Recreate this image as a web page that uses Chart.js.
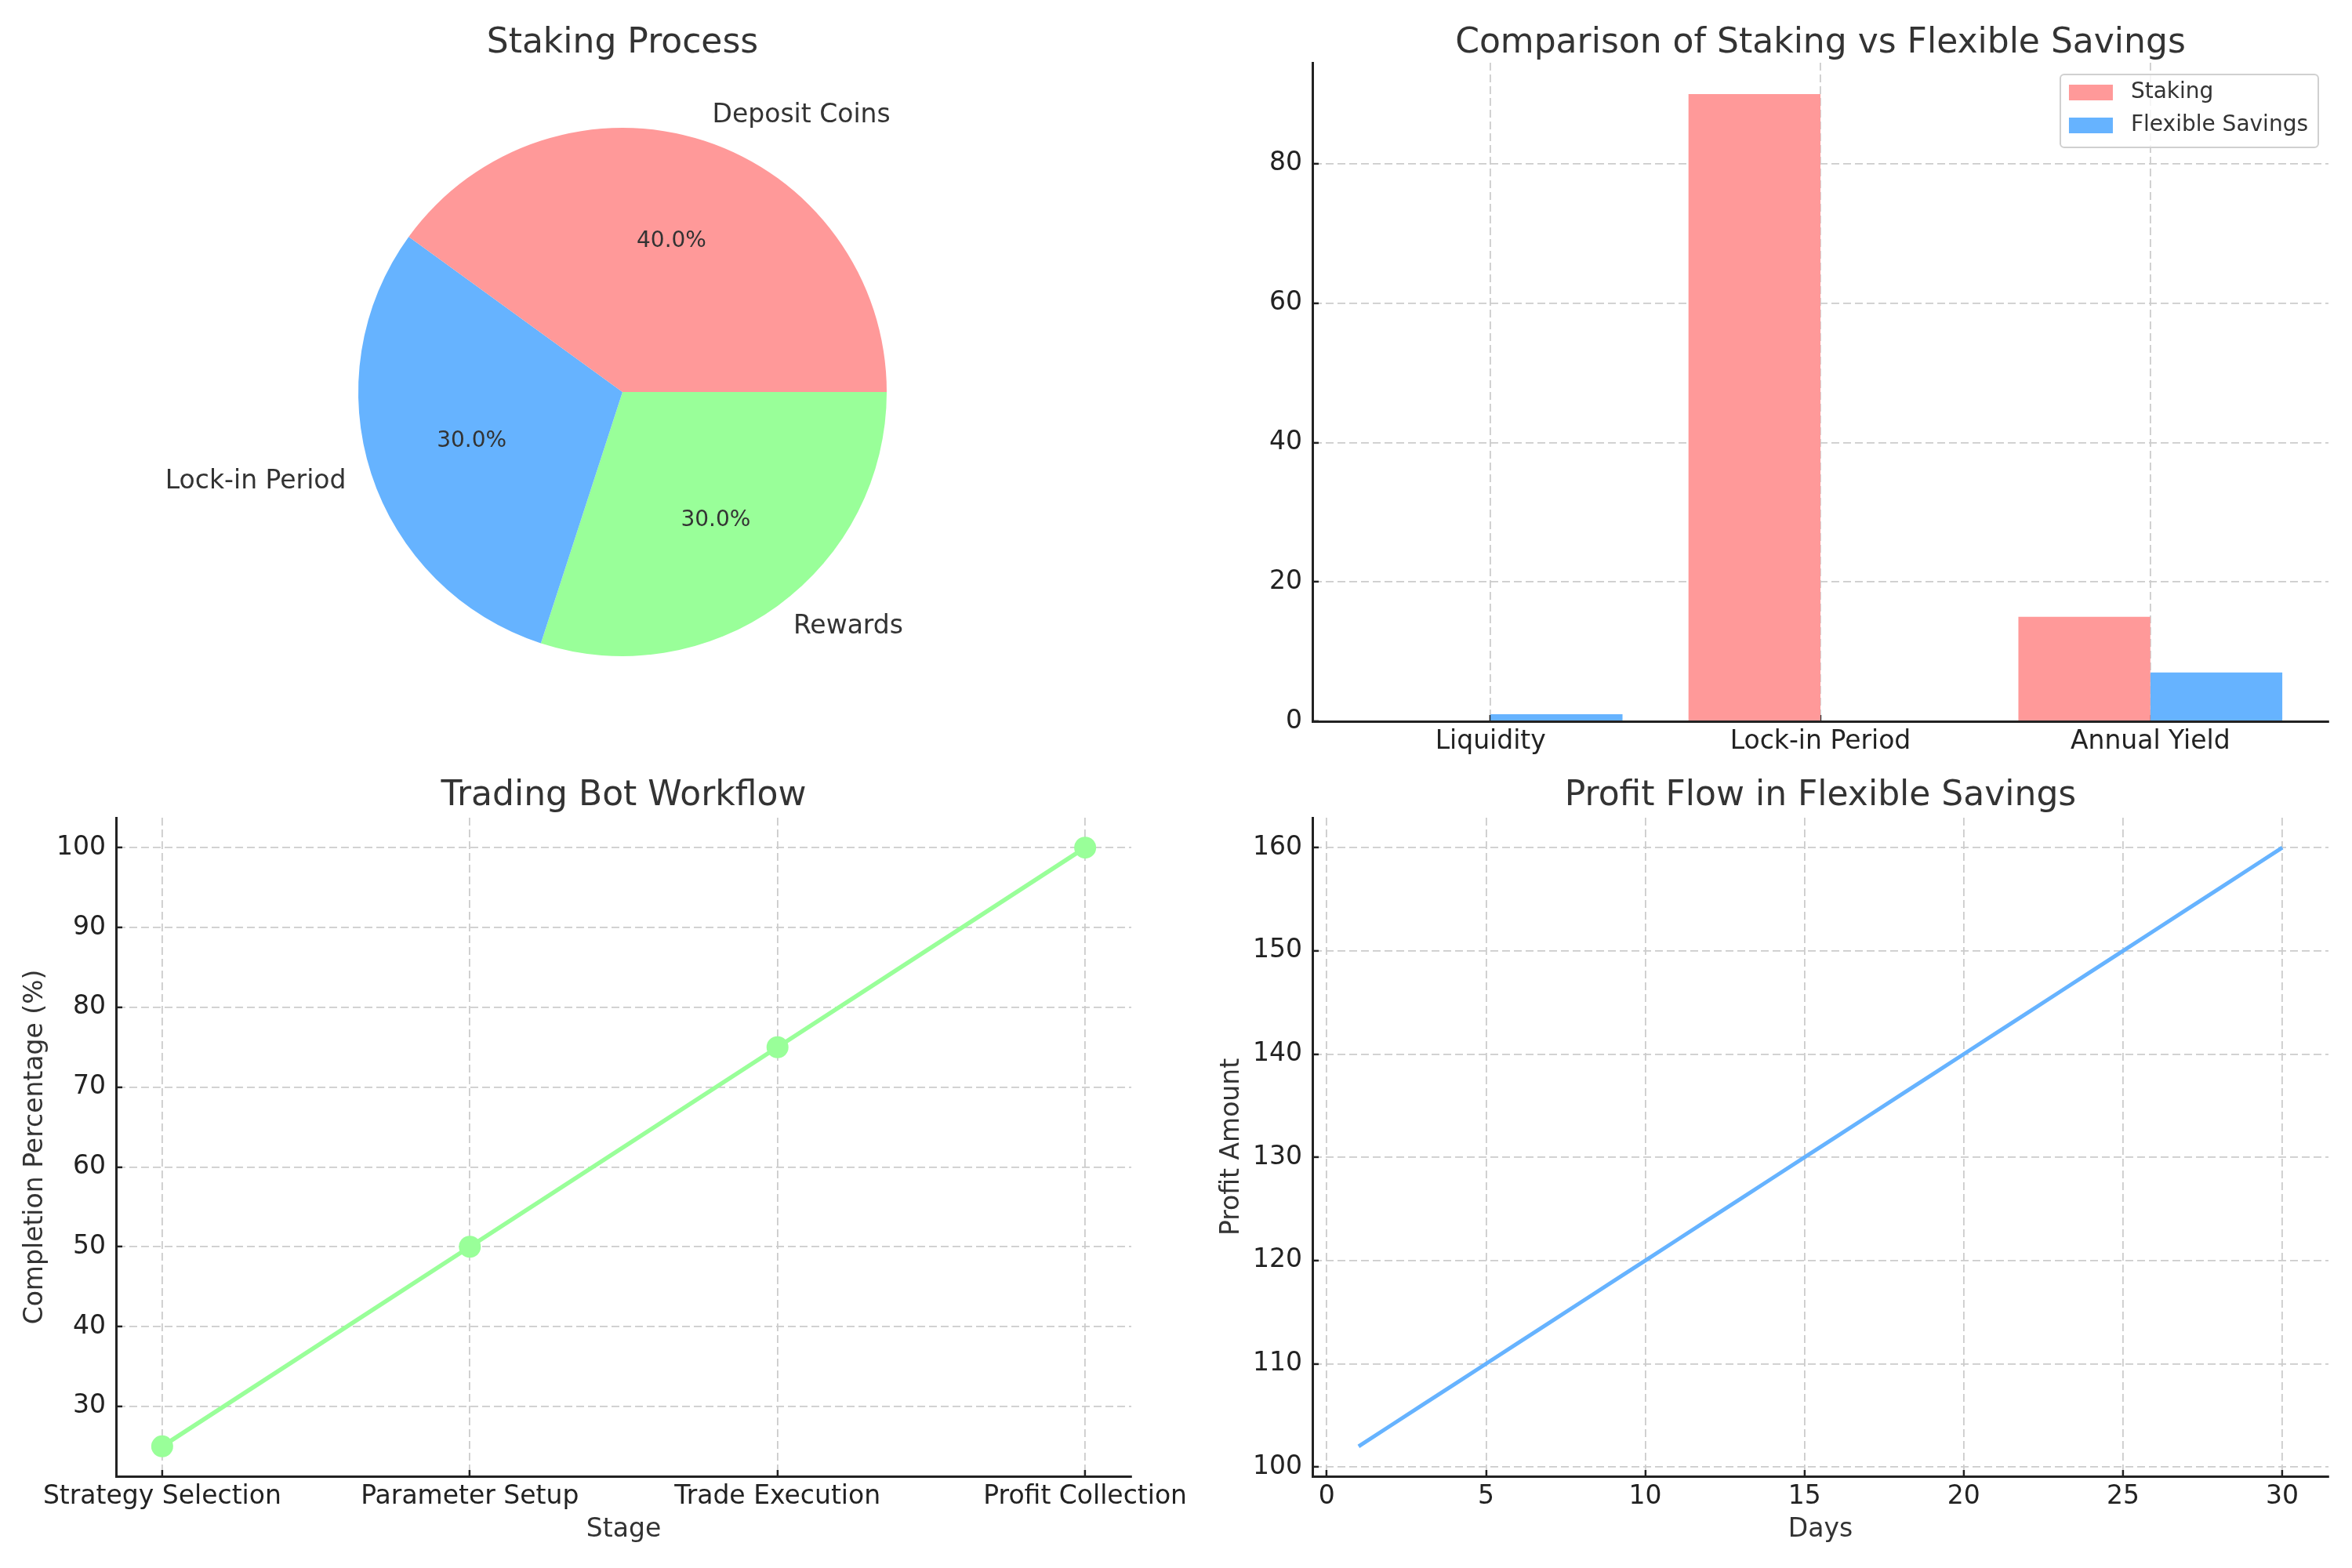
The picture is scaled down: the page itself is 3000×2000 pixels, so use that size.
<!DOCTYPE html>
<html>
<head>
<meta charset="utf-8">
<title>Staking and Savings</title>
<script src="https://cdn.jsdelivr.net/npm/chart.js@4.4.1/dist/chart.umd.min.js"></script>
<style>
  body { margin: 0; background: #fff; }
  .box { position: absolute; }
</style>
</head>
<body>
<div class="box" style="left:0px;top:0px;width:1500px;height:1000px"><canvas id="pieChart"></canvas></div>
<div class="box" style="left:1500px;top:0px;width:1500px;height:1000px"><canvas id="barChart"></canvas></div>
<div class="box" style="left:0px;top:960px;width:1560px;height:1040px"><canvas id="botChart"></canvas></div>
<div class="box" style="left:1500px;top:960px;width:1500px;height:1040px"><canvas id="profitChart"></canvas></div>
<script>
// staking process pie
const pieLabels = ['Deposit Coins', 'Lock-in Period', 'Rewards'];
const pieValues = [40, 30, 30];

// staking vs flexible savings
const compareCategories = ['Liquidity', 'Lock-in Period', 'Annual Yield'];
const stakingValues = [0, 90, 15];
const flexibleValues = [1, 0, 7];

// trading bot workflow
const stages = ['Strategy Selection', 'Parameter Setup', 'Trade Execution', 'Profit Collection'];
const completion = [25, 50, 75, 100];

// profit flow
const days = [1, 2, 3, 4, 5, 6, 7, 8, 9, 10, 11, 12, 13, 14, 15, 16, 17, 18, 19, 20, 21, 22, 23, 24, 25, 26, 27, 28, 29, 30];
const profit = [102, 104, 106, 108, 110, 112, 114, 116, 118, 120, 122, 124, 126, 128, 130, 132, 134, 136, 138, 140, 142, 144, 146, 148, 150, 152, 154, 156, 158, 160];

const RED = '#ff9999', BLUE = '#66b3ff', GREEN = '#99ff99';
const TEXT = '#333333', TICK = '#222222', GRID = '#cccccc';

Chart.defaults.font.family = "'DejaVu Sans'";
Chart.defaults.color = TEXT;

var titleOpts = function (text, bottomPad) {
    return {
        display: true,
        text: text,
        fullSize: false,
        color: TEXT,
        font: { size: 44, weight: 'normal', lineHeight: 1 },
        padding: { top: 34, bottom: bottomPad }
    };
};

// matplotlib-ish axis: dark spine, inward ticks, dashed light grid
var axis = function (opts) {
    var s = {
        type: 'linear',
        offset: false,
        min: opts.min,
        max: opts.max,
        border: { display: true, color: TICK, width: 3, dash: [10, 5] },
        grid: {
            display: true, offset: false, color: GRID, lineWidth: 1.8,
            drawTicks: true, tickLength: -8, tickColor: TICK, tickWidth: 2.5, tickBorderDash: []
        },
        ticks: {
            stepSize: opts.step, includeBounds: false, autoSkip: false, maxRotation: 0,
            color: TICK, font: { size: 33 }, padding: opts.pad
        },
        afterFit: opts.fit
    };
    if (opts.labels) {
        s.ticks.callback = function (v) { return opts.labels[v]; };
    }
    if (opts.title) {
        s.title = { display: true, text: opts.title, color: TEXT, font: { size: 33 }, padding: opts.titlePad };
    }
    return s;
};

// pie labels and percentages, placed from the arc geometry
const pieText = {
    id: 'pieText',
    afterDatasetsDraw(chart) {
        const ctx = chart.ctx;
        const meta = chart.getDatasetMeta(0);
        const values = chart.data.datasets[0].data;
        const total = values.reduce((a, b) => a + b, 0);
        ctx.save();
        ctx.fillStyle = TEXT;
        ctx.textBaseline = 'middle';
        meta.data.forEach((arc, i) => {
            const p = arc.getProps(['x', 'y', 'startAngle', 'endAngle', 'outerRadius'], true);
            const mid = (p.startAngle + p.endAngle) / 2;
            const c = Math.cos(mid), s = Math.sin(mid);
            ctx.font = "33px 'DejaVu Sans'";
            ctx.textAlign = c > 0 ? 'left' : 'right';
            ctx.fillText(chart.data.labels[i], p.x + c * p.outerRadius * 1.1, p.y + s * p.outerRadius * 1.1);
            ctx.font = "28px 'DejaVu Sans'";
            ctx.textAlign = 'center';
            ctx.fillText((values[i] / total * 100).toFixed(1) + '%', p.x + c * p.outerRadius * 0.6, p.y + s * p.outerRadius * 0.6);
        });
        ctx.restore();
    }
};

// legend box in the upper right corner of the plot
const boxLegend = {
    id: 'boxLegend',
    afterDatasetsDraw(chart) {
        const ctx = chart.ctx;
        const ca = chart.chartArea;
        const sets = chart.data.datasets;
        ctx.save();
        ctx.font = "28px 'DejaVu Sans'";
        var tw = 0;
        sets.forEach(d => { tw = Math.max(tw, ctx.measureText(d.label).width); });
        const w = 11 + 56 + 23 + tw + 13, h = 93;
        const x0 = ca.right - 13 - w, y0 = ca.top + 15;
        ctx.beginPath();
        ctx.roundRect(x0, y0, w, h, 5);
        ctx.fillStyle = 'rgba(255,255,255,0.8)';
        ctx.fill();
        ctx.lineWidth = 2;
        ctx.strokeStyle = '#d0d0d0';
        ctx.stroke();
        ctx.textBaseline = 'middle';
        ctx.textAlign = 'left';
        sets.forEach((d, i) => {
            const cy = y0 + 23 + i * 42;
            ctx.fillStyle = d.backgroundColor;
            ctx.fillRect(x0 + 11, cy - 10, 56, 20);
            ctx.fillStyle = TEXT;
            ctx.fillText(d.label, x0 + 90, cy);
        });
        ctx.restore();
    }
};

new Chart(document.getElementById('pieChart'), {
    type: 'pie',
    data: {
        // matplotlib goes counter-clockwise, Chart.js clockwise
        labels: pieLabels.slice().reverse(),
        datasets: [{
            data: pieValues.slice().reverse(),
            backgroundColor: [RED, BLUE, GREEN].reverse(),
            borderWidth: 0
        }]
    },
    options: {
        responsive: true,
        maintainAspectRatio: false,
        devicePixelRatio: 1,
        animation: false,
        rotation: 90,
        layout: { padding: { left: 457, right: 369, top: 0, bottom: 163 } },
        plugins: {
            legend: { display: false },
            tooltip: { enabled: false },
            title: titleOpts('Staking Process', 85)
        }
    },
    plugins: [pieText]
});

new Chart(document.getElementById('barChart'), {
    type: 'bar',
    data: {
        datasets: [{
            label: 'Staking',
            data: stakingValues.map((v, i) => ({ x: i, y: v })),
            backgroundColor: RED,
            borderWidth: 0,
            categoryPercentage: 0.8,
            barPercentage: 1
        }, {
            label: 'Flexible Savings',
            data: flexibleValues.map((v, i) => ({ x: i, y: v })),
            backgroundColor: BLUE,
            borderWidth: 0,
            categoryPercentage: 0.8,
            barPercentage: 1
        }]
    },
    options: {
        responsive: true,
        maintainAspectRatio: false,
        devicePixelRatio: 1,
        animation: false,
        layout: { padding: { left: 0, right: 30, top: 0, bottom: 0 } },
        scales: {
            x: axis({ min: -0.54, max: 2.54, step: 1, pad: 15, labels: compareCategories,
                fit: s => { s.height = 80; } }),
            y: axis({ min: 0, max: 94.5, step: 20, pad: 21,
                fit: s => { s.width = 174; } })
        },
        plugins: {
            legend: { display: false },
            tooltip: { enabled: false },
            title: titleOpts('Comparison of Staking vs Flexible Savings', 2)
        }
    },
    plugins: [boxLegend]
});

new Chart(document.getElementById('botChart'), {
    type: 'line',
    data: {
        datasets: [{
            data: completion.map((v, i) => ({ x: i, y: v })),
            borderColor: GREEN,
            backgroundColor: GREEN,
            borderWidth: 5.5,
            pointRadius: 14,
            pointBorderWidth: 0,
            pointBackgroundColor: GREEN,
            tension: 0
        }]
    },
    options: {
        responsive: true,
        maintainAspectRatio: false,
        devicePixelRatio: 1,
        animation: false,
        layout: { padding: { left: 0, right: 117, top: 0, bottom: 0 } },
        scales: {
            x: axis({ min: -0.15, max: 3.15, step: 1, pad: 15, labels: stages,
                title: 'Stage', titlePad: { top: 0, bottom: 29 },
                fit: s => { s.height = 117; } }),
            y: axis({ min: 21.25, max: 103.75, step: 10, pad: 21,
                title: 'Completion Percentage (%)', titlePad: { top: 26, bottom: 0 },
                fit: s => { s.width = 148; } })
        },
        plugins: {
            legend: { display: false },
            tooltip: { enabled: false },
            title: titleOpts('Trading Bot Workflow', 5)
        }
    }
});

new Chart(document.getElementById('profitChart'), {
    type: 'line',
    data: {
        datasets: [{
            data: days.map((d, i) => ({ x: d, y: profit[i] })),
            borderColor: BLUE,
            backgroundColor: BLUE,
            borderWidth: 5,
            pointRadius: 0,
            tension: 0
        }]
    },
    options: {
        responsive: true,
        maintainAspectRatio: false,
        devicePixelRatio: 1,
        animation: false,
        layout: { padding: { left: 0, right: 30, top: 0, bottom: 0 } },
        scales: {
            x: axis({ min: -0.45, max: 31.45, step: 5, pad: 15,
                title: 'Days', titlePad: { top: 0, bottom: 29 },
                fit: s => { s.height = 117; } }),
            y: axis({ min: 99.1, max: 162.9, step: 10, pad: 21,
                title: 'Profit Amount', titlePad: { top: 52, bottom: 0 },
                fit: s => { s.width = 174; } })
        },
        plugins: {
            legend: { display: false },
            tooltip: { enabled: false },
            title: titleOpts('Profit Flow in Flexible Savings', 5)
        }
    }
});
</script>
</body>
</html>
